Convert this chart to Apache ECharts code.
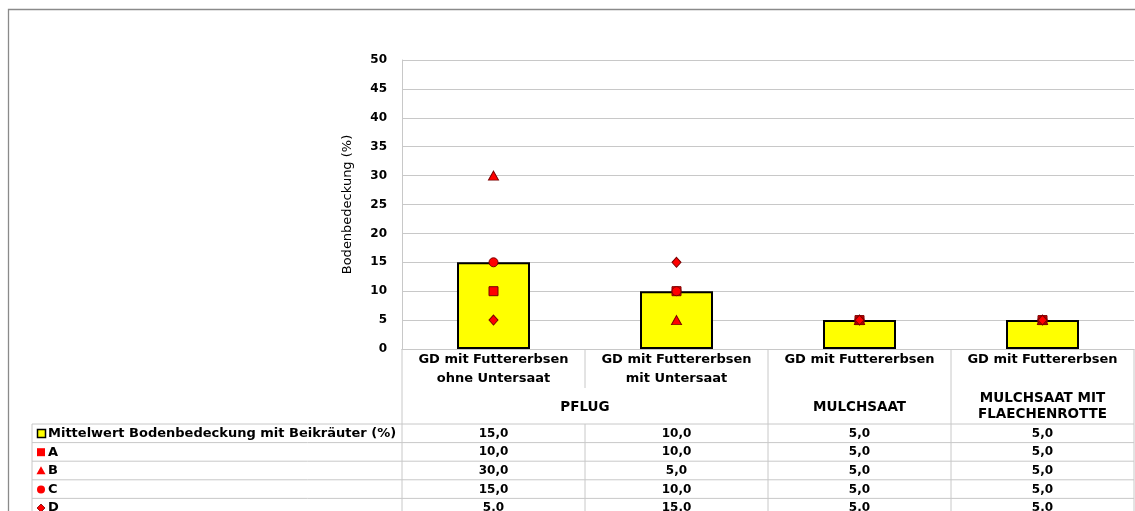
<!DOCTYPE html>
<html>
<head>
<meta charset="utf-8">
<script src="https://cdn.jsdelivr.net/npm/echarts@6/dist/echarts.min.js"></script>
<style>
  html, body { margin: 0; padding: 0; background: #ffffff; }
  #chart { width: 1135px; height: 511px; }
</style>
</head>
<body>
<div id="chart"></div>
<script>
// ---- data ----
const categories = [
  'GD mit Futtererbsen\nohne Untersaat',
  'GD mit Futtererbsen\nmit Untersaat',
  'GD mit Futtererbsen',
  'GD mit Futtererbsen'
];
const groupLabels = ['PFLUG', 'MULCHSAAT', 'MULCHSAAT MIT\nFLAECHENROTTE'];
const groupSpans = [[0, 1], [2, 2], [3, 3]];
const meanName = 'Mittelwert Bodenbedeckung mit Beikräuter (%)';
const meanValues = [15, 10, 5, 5];
const valuesA = [10, 10, 5, 5];
const valuesB = [30, 5, 5, 5];
const valuesC = [15, 10, 5, 5];
const valuesD = [5, 15, 5, 5];
const yMin = 0, yMax = 50, yStep = 5;
const yAxisTitle = 'Bodenbedeckung (%)';

// ---- styling ----
const FONT = "'DejaVu Sans', 'Liberation Sans', Arial, sans-serif";
const RED = '#ff0000';
const RED_EDGE = '#7a0000';
const LINE = '#c8c8c8';

const pointSeries = [
  { name: 'A', data: valuesA, symbol: 'rect', size: 9 },
  { name: 'B', data: valuesB, symbol: 'triangle', size: [10, 9] },
  { name: 'C', data: valuesC, symbol: 'circle', size: 9 },
  { name: 'D', data: valuesD, symbol: 'diamond', size: [9, 10] }
];

const chart = echarts.init(document.getElementById('chart'), null, { renderer: 'canvas' });

const option = {
  animation: false,
  backgroundColor: '#ffffff',
  textStyle: { fontFamily: FONT },
  grid: { left: 402, right: 1, top: 60, bottom: 162, containLabel: false },
  xAxis: {
    type: 'category',
    data: categories,
    axisLine: { show: true, lineStyle: { color: LINE, width: 1 } },
    axisTick: { show: false },
    axisLabel: {
      interval: 0, margin: 1, lineHeight: 19,
      fontFamily: FONT, fontSize: 13, fontWeight: 'bold', color: '#000'
    },
    splitLine: { show: false }
  },
  yAxis: {
    type: 'value',
    min: yMin, max: yMax, interval: yStep,
    name: yAxisTitle,
    nameLocation: 'middle',
    nameRotate: 90,
    nameGap: 48,
    nameTextStyle: { fontFamily: FONT, fontSize: 13, color: '#000' },
    axisLine: { show: true, lineStyle: { color: LINE, width: 1 } },
    axisTick: { show: false },
    axisLabel: { margin: 15, fontFamily: FONT, fontSize: 12, fontWeight: 'bold', color: '#000' },
    splitLine: { show: true, lineStyle: { color: LINE, width: 1 } }
  },
  series: [
    {
      name: meanName,
      type: 'bar',
      data: meanValues,
      barWidth: 73,
      itemStyle: { color: '#ffff00', borderColor: '#000000', borderWidth: 2 },
      z: 2
    }
  ].concat(pointSeries.map(s => ({
    name: s.name,
    type: 'scatter',
    data: s.data,
    symbol: s.symbol,
    symbolSize: s.size,
    itemStyle: { color: RED, borderColor: RED_EDGE, borderWidth: 1, opacity: 1 },
    z: 3
  })))
};

chart.setOption(option);

// ---- category group labels and data table below the plot ----
function fmt(v) { return v.toFixed(1).replace('.', ','); }

const cx = categories.map((c, i) => chart.convertToPixel({ xAxisIndex: 0 }, i));
const step = cx[1] - cx[0];
const edges = [cx[0] - step / 2].concat(cx.map(x => x + step / 2));
const axisY = chart.convertToPixel({ yAxisIndex: 0 }, yMin);
const plotRight = edges[edges.length - 1];

const headerBottom = axisY + 75;
const rowH = 18.6;
const tableLeft = 32;
const tableRows = [
  { name: meanName, values: meanValues, key: 'mean' },
  { name: 'A', values: valuesA, key: 'rect' },
  { name: 'B', values: valuesB, key: 'triangle' },
  { name: 'C', values: valuesC, key: 'circle' },
  { name: 'D', values: valuesD, key: 'diamond' }
];

const g = [];
const hLine = (x1, x2, y) => g.push({ type: 'line', shape: { x1, y1: y, x2, y2: y }, style: { stroke: LINE, lineWidth: 1 }, silent: true });
const vLine = (x, y1, y2) => g.push({ type: 'line', shape: { x1: x, y1, x2: x, y2 }, style: { stroke: LINE, lineWidth: 1 }, silent: true });
const text = (t, x, y, align, size, lh) => g.push({
  type: 'text', silent: true,
  style: { text: t, x, y, align: align || 'center', verticalAlign: 'middle',
           font: 'bold ' + (size || 13) + 'px ' + FONT, fill: '#000', lineHeight: lh || 15 }
});

// outer frame
g.push({ type: 'rect', shape: { x: 8.5, y: 9.5, width: 1200, height: 600 },
         style: { fill: 'none', stroke: '#8a8a8a', lineWidth: 1.3 }, silent: true });

// header dividers: within a group only down to the category label row
const bottomY = 520;
vLine(edges[0], axisY, bottomY);
for (let i = 1; i < edges.length; i++) {
  const inGroup = groupSpans.some(s => i > s[0] && i <= s[1]);
  vLine(edges[i], axisY, inGroup ? axisY + 39 : bottomY);
  if (inGroup) vLine(edges[i], headerBottom, bottomY);
}
vLine(tableLeft, headerBottom, bottomY);

// group labels
groupLabels.forEach((lab, k) => {
  const s = groupSpans[k];
  const x = (edges[s[0]] + edges[s[1] + 1]) / 2;
  text(lab, x, axisY + (lab.indexOf('\n') >= 0 ? 57 : 58), 'center', 13.5, 16);
});

// table rows
tableRows.forEach((r, j) => {
  const top = headerBottom + j * rowH;
  const cy = top + rowH / 2 + 0.3;
  hLine(tableLeft, plotRight, top);
  text(r.name, 48, cy, 'left', 13);
  r.values.forEach((v, i) => text(fmt(v), cx[i], cy, 'center', 12));
  const sx = 41, sy = cy;
  if (r.key === 'mean') {
    g.push({ type: 'rect', shape: { x: 37.5, y: sy - 4, width: 8, height: 8 },
             style: { fill: '#ffff00', stroke: '#000', lineWidth: 1.5 }, silent: true });
  } else if (r.key === 'rect') {
    g.push({ type: 'rect', shape: { x: 37, y: sy - 4, width: 8, height: 8 }, style: { fill: RED }, silent: true });
  } else if (r.key === 'triangle') {
    g.push({ type: 'polygon', shape: { points: [[sx, sy - 4.5], [sx + 4.5, sy + 3.5], [sx - 4.5, sy + 3.5]] }, style: { fill: RED }, silent: true });
  } else if (r.key === 'circle') {
    g.push({ type: 'circle', shape: { cx: sx, cy: sy, r: 4 }, style: { fill: RED }, silent: true });
  } else {
    g.push({ type: 'polygon', shape: { points: [[sx, sy - 4], [sx + 4, sy], [sx, sy + 4], [sx - 4, sy]] }, style: { fill: RED, stroke: RED_EDGE, lineWidth: 0.8 }, silent: true });
  }
});
hLine(tableLeft, plotRight, headerBottom + tableRows.length * rowH);

chart.setOption({ graphic: { elements: g } });
</script>
</body>
</html>
